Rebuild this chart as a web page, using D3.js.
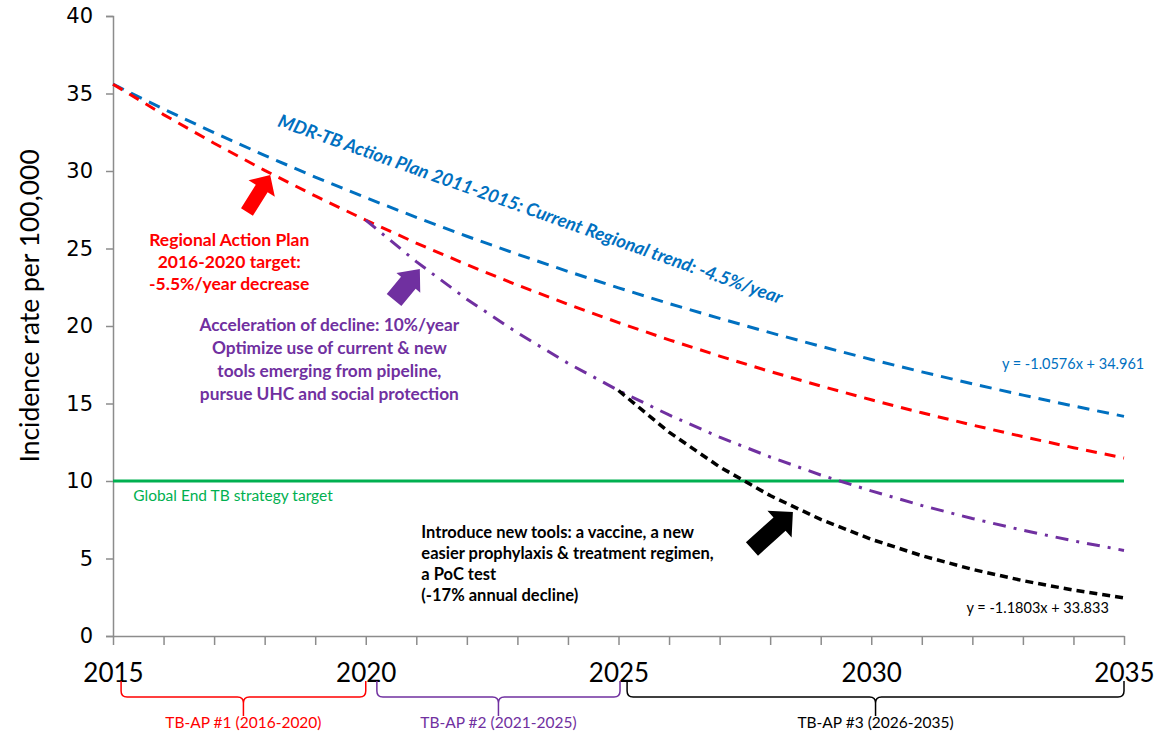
<!DOCTYPE html>
<html>
<head>
<meta charset="utf-8">
<script src="https://cdn.jsdelivr.net/npm/d3@7"></script>
<style>
  html, body { margin: 0; padding: 0; background: #fff; }
  svg { display: block; }
</style>
</head>
<body>
<svg id="chart" width="1154" height="733"></svg>
<script>
// Years on the x axis and the tick labels shown
const years = [2015, 2016, 2017, 2018, 2019, 2020, 2021, 2022, 2023, 2024, 2025,
               2026, 2027, 2028, 2029, 2030, 2031, 2032, 2033, 2034, 2035];
const xTickLabels = ["2015", "2020", "2025", "2030", "2035"];
const yTickLabels = ["0", "5", "10", "15", "20", "25", "30", "35", "40"];

// Incidence per 100,000 — current regional trend (-4.5%/year), 2015-2035
const currentTrend = [35.6, 34.0, 32.47, 31.01, 29.61, 28.28, 27.01, 25.79, 24.63, 23.52, 22.46,
                      21.45, 20.49, 19.57, 18.69, 17.84, 17.04, 16.27, 15.54, 14.84, 14.17];
// Regional Action Plan target (-5.5%/year), 2015-2035
const regionalTarget = [35.6, 33.64, 31.79, 30.04, 28.39, 26.83, 25.35, 23.96, 22.64, 21.40, 20.22,
                        19.11, 18.06, 17.06, 16.13, 15.24, 14.40, 13.61, 12.86, 12.15, 11.48];
// Accelerated decline (-10%/year), 2020-2035
const acceleratedYears = [2020, 2021, 2022, 2023, 2024, 2025, 2026, 2027, 2028, 2029, 2030, 2031, 2032, 2033, 2034, 2035];
const accelerated = [26.83, 24.15, 21.73, 19.56, 17.60, 15.84, 14.26, 12.83, 11.55, 10.39, 9.36, 8.42, 7.58, 6.82, 6.14, 5.52];
// New tools scenario (-17%/year), 2025-2035
const newToolsYears = [2025, 2026, 2027, 2028, 2029, 2030, 2031, 2032, 2033, 2034, 2035];
const newTools = [15.84, 13.15, 10.91, 9.06, 7.52, 6.24, 5.18, 4.30, 3.57, 2.96, 2.46];
// Global End TB strategy target
const endTbYears = [2015, 2035];
const endTbTarget = [10, 10];

// Plan periods shown as braces under the axis
const planNames = ["TB-AP #1 (2016-2020)", "TB-AP #2 (2021-2025)", "TB-AP #3 (2026-2035)"];
const planStarts = [2015.16, 2020.22, 2025.17];
const planEnds = [2020.0, 2025.03, 2035.0];

const svg = d3.select("#chart");
const FONT = "Lato, 'Open Sans', sans-serif";

const x = d3.scaleLinear().domain([2015, 2035]).range([113, 1124]);
const y = d3.scaleLinear().domain([0, 40]).range([636, 16]);

// ---- axes ----
const yAxis = d3.axisLeft(y).tickValues(yTickLabels.map(Number)).tickSize(7).tickPadding(13)
  .tickFormat(d => String(d));
const gy = svg.append("g").attr("transform", `translate(${x(2015)},0)`).call(yAxis);
gy.select(".domain").attr("stroke", "#8c8c8c").attr("stroke-width", 1.5);
gy.selectAll(".tick line").attr("stroke", "#8c8c8c").attr("stroke-width", 1.5);
gy.selectAll(".tick text").attr("font-family", "'DejaVu Sans', sans-serif").attr("font-size", 21)
  .attr("fill", "#000");

const xAxis = d3.axisBottom(x).tickValues(years).tickSize(9).tickSizeOuter(0)
  .tickFormat(d => xTickLabels.includes(String(d)) ? String(d) : "");
const gx = svg.append("g").attr("transform", `translate(0,${y(0)})`).call(xAxis);
gx.select(".domain").attr("stroke", "#8c8c8c").attr("stroke-width", 1.5);
gx.selectAll(".tick line").attr("stroke", "#8c8c8c").attr("stroke-width", 1.5);
gx.selectAll(".tick text").attr("font-family", FONT).attr("font-size", 26).attr("fill", "#000")
  .attr("dy", "0").attr("y", 46);

// y axis title
svg.append("text")
  .attr("transform", `translate(39,${y(21.3)}) rotate(-90)`)
  .attr("text-anchor", "middle")
  .attr("font-family", FONT).attr("font-size", 26.5).attr("fill", "#000")
  .text("Incidence rate per 100,000");

// ---- series ----
const line = d3.line().x(d => x(d[0])).y(d => y(d[1]));
function drawSeries(xs, vs, color, width, dash) {
  svg.append("path")
    .datum(xs.map((yr, i) => [yr, vs[i]]))
    .attr("d", line)
    .attr("fill", "none")
    .attr("stroke", color)
    .attr("stroke-width", width)
    .attr("stroke-dasharray", dash);
}
drawSeries(endTbYears, endTbTarget, "#00b050", 3, null);
drawSeries(years, currentTrend, "#0070c0", 3, "12,8");
drawSeries(years, regionalTarget, "#ff0000", 3, "11,8");
drawSeries(acceleratedYears, accelerated, "#7030a0", 3, "13,8,3,8");
drawSeries(newToolsYears, newTools, "#000000", 3.5, "8,5");

// ---- block arrows pointing at the series ----
function blockArrow(tail, tip, shaftW, headW, headL, color) {
  const x0 = x(tail[0]), y0 = y(tail[1]), x1 = x(tip[0]), y1 = y(tip[1]);
  const len = Math.hypot(x1 - x0, y1 - y0);
  const ux = (x1 - x0) / len, uy = (y1 - y0) / len;
  const nx = -uy, ny = ux;
  const bx = x1 - ux * headL, by = y1 - uy * headL;
  const pts = [
    [x0 + nx * shaftW / 2, y0 + ny * shaftW / 2],
    [bx + nx * shaftW / 2, by + ny * shaftW / 2],
    [bx + nx * headW / 2, by + ny * headW / 2],
    [x1, y1],
    [bx - nx * headW / 2, by - ny * headW / 2],
    [bx - nx * shaftW / 2, by - ny * shaftW / 2],
    [x0 - nx * shaftW / 2, y0 - ny * shaftW / 2]
  ];
  svg.append("path").attr("d", "M" + pts.map(p => p.join(",")).join("L") + "Z").attr("fill", color);
}
blockArrow([2017.65, 27.35], [2018.11, 29.74], 14, 31, 16, "#ff0000");
blockArrow([2020.56, 21.68], [2021.07, 23.68], 19, 31, 18, "#7030a0");
blockArrow([2027.64, 5.61], [2028.45, 8.0], 18, 36, 18, "#000000");

// ---- annotations ----
function textBlock(lines, px, py, lineH, opts) {
  const t = svg.append("text")
    .attr("font-family", FONT)
    .attr("font-size", opts.size)
    .attr("font-weight", opts.weight || "normal")
    .attr("fill", opts.color)
    .attr("text-anchor", opts.anchor || "start");
  lines.forEach((s, i) => {
    t.append("tspan").attr("x", px).attr("y", py + i * lineH).text(s);
  });
  return t;
}

// current regional trend label, along the blue line
svg.append("text")
  .attr("transform", `translate(${x(2018.24)},${y(32.9)}) rotate(19.5)`)
  .attr("font-family", FONT).attr("font-size", 18.3).attr("font-weight", "bold")
  .attr("font-style", "italic").attr("fill", "#0070c0")
  .text("MDR-TB Action Plan 2011-2015: Current Regional trend:  -4.5%/year");

textBlock(["Regional Action Plan", "2016-2020 target:", "-5.5%/year decrease"],
  x(2017.3), y(25.17), 22, { size: 17.5, weight: "bold", color: "#ff0000", anchor: "middle" });

textBlock(["Acceleration of decline: 10%/year", "Optimize use of current & new",
           "tools emerging from pipeline,", "pursue UHC and social protection"],
  x(2019.28), y(19.68), 23, { size: 17.3, weight: "bold", color: "#7030a0", anchor: "middle" });

textBlock(["Introduce new tools: a vaccine, a new", "easier prophylaxis & treatment regimen,",
           "a PoC test", "(-17% annual decline)"],
  x(2021.1), y(6.32), 21, { size: 16.5, weight: "bold", color: "#000000" });

textBlock(["Global End TB strategy target"], x(2015.4), y(8.7), 0,
  { size: 15.5, color: "#00b050" });

textBlock(["y = -1.0576x + 34.961"], x(2035.4), y(17.2), 0,
  { size: 14.5, color: "#0070c0", anchor: "end" });
textBlock(["y = -1.1803x + 33.833"], x(2034.7), y(1.48), 0,
  { size: 14.5, color: "#000000", anchor: "end" });

// ---- plan period braces ----
const planColors = ["#ff0000", "#7030a0", "#000000"];
const braceTop = 681, braceMid = 697, braceTip = 716, r = 6;
planNames.forEach((name, i) => {
  const a = x(planStarts[i]), b = x(planEnds[i]), c = (a + b) / 2;
  const d = `M${a},${braceTop} L${a},${braceMid - r} Q${a},${braceMid} ${a + r},${braceMid}` +
            ` L${c - r},${braceMid} Q${c},${braceMid} ${c},${braceMid + r} L${c},${braceTip}` +
            ` M${c},${braceMid + r} Q${c},${braceMid} ${c + r},${braceMid}` +
            ` L${b - r},${braceMid} Q${b},${braceMid} ${b},${braceMid - r} L${b},${braceTop}`;
  svg.append("path").attr("d", d).attr("fill", "none")
    .attr("stroke", planColors[i]).attr("stroke-width", 1.5);
  svg.append("text").attr("x", c).attr("y", 728)
    .attr("text-anchor", "middle").attr("font-family", FONT).attr("font-size", 15.5)
    .attr("fill", planColors[i]).text(name);
});
</script>
</body>
</html>
